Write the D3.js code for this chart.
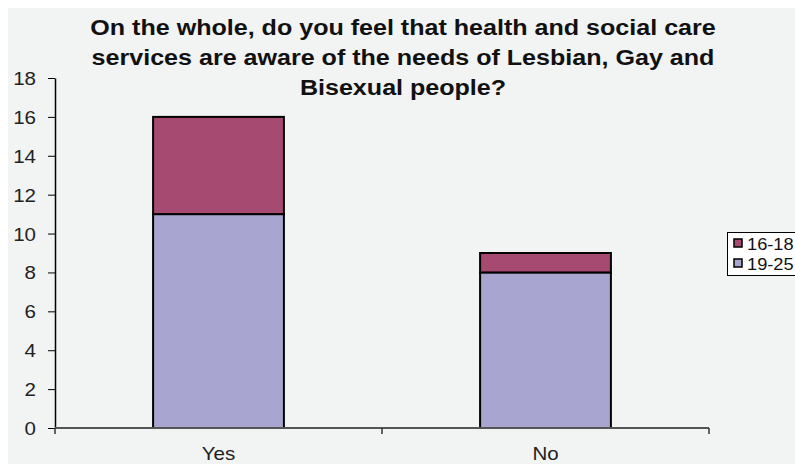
<!DOCTYPE html>
<html><head><meta charset="utf-8">
<script src="https://cdn.jsdelivr.net/npm/d3@7"></script>
<style>html,body{margin:0;padding:0;background:#fff;}svg{display:block;font-family:"Liberation Sans",Arial,sans-serif;}</style>
</head><body>
<svg id="c" width="795" height="464"></svg>
<script>
const categories = ["Yes", "No"];
const seriesNames = ["19-25", "16-18"];
const values1925 = [11, 8];
const values1618 = [5, 1];
const yTicks = [0, 2, 4, 6, 8, 10, 12, 14, 16, 18];
const titleLines = ["On the whole, do you feel that health and social care",
  "services are aware of the needs of Lesbian, Gay and",
  "Bisexual people?"];
const colors = {"19-25": "#a8a5d0", "16-18": "#a64a72"};
const SX = 1.14;

const svg = d3.select("#c");
svg.append("rect").attr("x", 8).attr("y", 8).attr("width", 787).attr("height", 456).attr("fill", "#f2f3f3");

const x = d3.scaleBand().domain(categories).range([55, 709]).paddingInner(0.6).paddingOuter(0.3);
const y = d3.scaleLinear().domain([0, 18]).range([428, 78]);

const rows = categories.map((c, i) => ({cat: c, "19-25": values1925[i], "16-18": values1618[i]}));
const stacked = d3.stack().keys(seriesNames)(rows);

const g = svg.append("g");
stacked.forEach(layer => {
  g.selectAll(null).data(layer).enter().append("rect")
    .attr("x", d => x(d.data.cat))
    .attr("width", x.bandwidth())
    .attr("y", d => y(d[1]))
    .attr("height", d => y(d[0]) - y(d[1]))
    .attr("fill", colors[layer.key])
    .attr("stroke", "#000").attr("stroke-width", 2);
});

// Y axis
const ya = svg.append("g").attr("transform", "translate(55,0)")
  .call(d3.axisLeft(y).tickValues(yTicks).tickSize(7).tickSizeOuter(0));
ya.select(".domain").attr("stroke", "#000").attr("stroke-width", 1.5);
ya.selectAll(".tick line").attr("stroke", "#000");
ya.selectAll("text").attr("font-size", 18).attr("fill", "#222")
  .attr("font-family", "Liberation Sans, Arial, sans-serif")
  .attr("x", -19 / SX).attr("dy", "0.36em").attr("transform", `scale(${SX},1)`);

// X axis
const xa = svg.append("g").attr("transform", "translate(0,428)");
xa.append("line").attr("x1", 55).attr("x2", 709).attr("y1", 0).attr("y2", 0).attr("stroke", "#555").attr("stroke-width", 2);
const bounds = [55, (x("Yes") + x.bandwidth() + x("No")) / 2, 709];
xa.selectAll(null).data(bounds).enter().append("line")
  .attr("x1", d => d).attr("x2", d => d).attr("y1", 0).attr("y2", 6).attr("stroke", "#333").attr("stroke-width", 1.5);
xa.selectAll(null).data(categories).enter().append("text")
  .attr("transform", d => `translate(${x(d) + x.bandwidth() / 2},32) scale(${SX},1)`)
  .attr("text-anchor", "middle").attr("font-size", 18).attr("fill", "#222").text(d => d);

// Title
svg.append("g").selectAll("text").data(titleLines).enter().append("text")
  .attr("transform", (d, i) => `translate(403,${35 + i * 30}) scale(${SX},1)`)
  .attr("text-anchor", "middle").attr("font-size", 22).attr("font-weight", "bold").attr("fill", "#111")
  .text(d => d);

// Legend
const lg = svg.append("g");
lg.append("rect").attr("x", 727.5).attr("y", 232.5).attr("width", 80).attr("height", 43)
  .attr("fill", "#fff").attr("stroke", "#000").attr("stroke-width", 1);
const legendItems = ["16-18", "19-25"];
legendItems.forEach((k, i) => {
  lg.append("rect").attr("x", 734).attr("y", 239 + i * 20).attr("width", 8).attr("height", 8)
    .attr("fill", colors[k]).attr("stroke", "#000").attr("stroke-width", 1.5);
  lg.append("text").attr("transform", `translate(747,${250 + i * 20}) scale(${SX},1)`)
    .attr("font-size", 16).attr("fill", "#111").text(k);
});
</script>
</body></html>
